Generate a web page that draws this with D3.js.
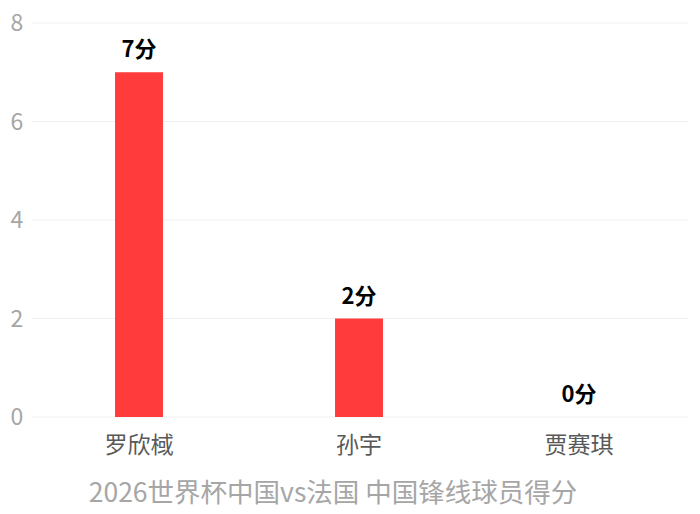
<!DOCTYPE html>
<html>
<head>
<meta charset="utf-8">
<script src="https://cdn.jsdelivr.net/npm/d3@7"></script>
<style>
  body { margin: 0; background: #fff; }
  svg { display: block; font-family: "Noto Sans CJK SC", "Noto Sans", sans-serif; }
</style>
</head>
<body>
<div class="js-chart"></div>
<script>
(function() {
  'use strict';

  /* ---- data ---- */
  var players = ['罗欣棫', '孙宇', '贾赛琪'];
  var points = [7, 2, 0];
  var yTicks = [0, 2, 4, 6, 8];
  var title = '2026世界杯中国vs法国 中国锋线球员得分';

  /* ---- size ---- */
  var width = 700;
  var height = 514;
  var left = 29, right = 689, top = 23, bottom = 417;

  var svg = d3.select('.js-chart')
    .append('svg')
    .attr('width', width)
    .attr('height', height);

  var x = d3.scaleBand()
    .domain(players)
    .range([left, right])
    .paddingInner(0.782)
    .paddingOuter(0.391);

  var y = d3.scaleLinear()
    .domain([0, 8])
    .range([bottom, top]);

  /* ---- grid + y ticks ---- */
  svg.append('g')
    .selectAll('line')
    .data(yTicks)
    .join('line')
    .attr('x1', 32)
    .attr('x2', 688)
    .attr('y1', d => y(d))
    .attr('y2', d => y(d))
    .attr('stroke', '#f0f0f0')
    .attr('stroke-width', 1);

  svg.append('g')
    .selectAll('text')
    .data(yTicks)
    .join('text')
    .attr('x', 17)
    .attr('y', d => y(d))
    .attr('dy', '0.36em')
    .attr('text-anchor', 'middle')
    .attr('font-size', 23)
    .attr('fill', '#a6a6a6')
    .text(d => d);

  /* ---- bars ---- */
  svg.append('g')
    .selectAll('rect')
    .data(points)
    .join('rect')
    .attr('x', (d, i) => x(players[i]))
    .attr('width', x.bandwidth())
    .attr('y', d => y(d))
    .attr('height', d => y(0) - y(d))
    .attr('fill', '#ff3b3b');

  /* ---- value labels ---- */
  svg.append('g')
    .selectAll('text')
    .data(points)
    .join('text')
    .attr('x', (d, i) => x(players[i]) + x.bandwidth() / 2)
    .attr('y', d => y(d) - 15)
    .attr('text-anchor', 'middle')
    .attr('font-size', 22)
    .attr('font-weight', 'bold')
    .attr('fill', '#000')
    .text(d => d + '分');

  /* ---- x labels ---- */
  svg.append('g')
    .selectAll('text')
    .data(players)
    .join('text')
    .attr('x', d => x(d) + x.bandwidth() / 2)
    .attr('y', 453)
    .attr('text-anchor', 'middle')
    .attr('font-size', 23)
    .attr('fill', '#595959')
    .text(d => d);

  /* ---- title ---- */
  svg.append('text')
    .attr('x', 333)
    .attr('y', 502)
    .attr('text-anchor', 'middle')
    .attr('font-size', 26.5)
    .attr('fill', '#a6a6a6')
    .text(title);
})();
</script>
</body>
</html>
